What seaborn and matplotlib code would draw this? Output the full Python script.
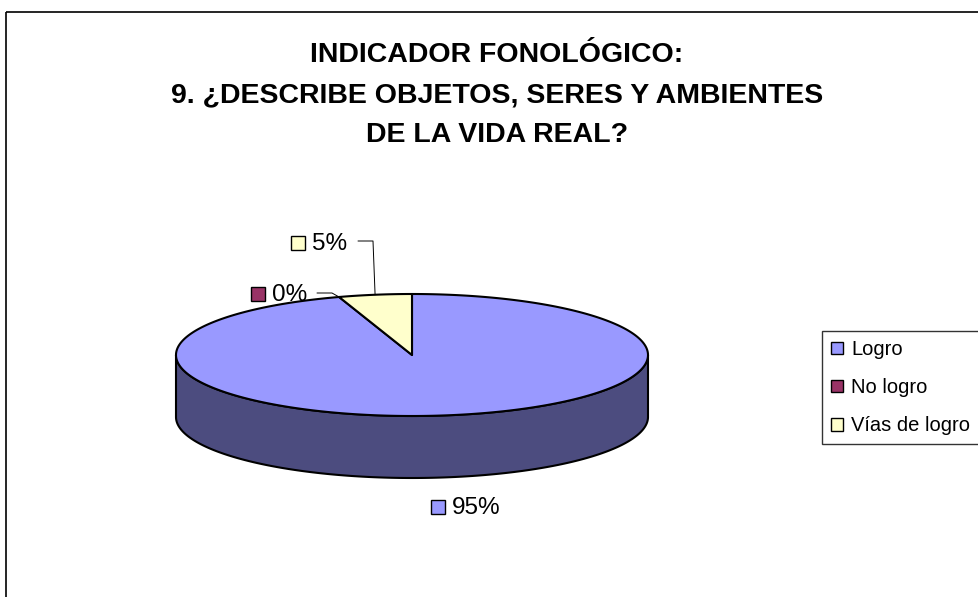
import numpy as np
import matplotlib
matplotlib.use("Agg")
import matplotlib.pyplot as plt
import seaborn as sns
from matplotlib.patches import Polygon, Rectangle, Patch

# ---- data ----
categories = ["Logro", "No logro", "Vías de logro"]
percentages = [95, 0, 5]
colors_top = ["#9999FF", "#993366", "#FFFFCC"]
colors_side = ["#4C4C7F", "#4C1A33", "#808066"]
title_lines = ["INDICADOR FONOLÓGICO:",
               "9. ¿DESCRIBE OBJETOS, SERES Y AMBIENTES",
               "DE LA VIDA REAL?"]

sns.set_theme(style="white")
plt.rcParams["font.family"] = ["Liberation Sans", "DejaVu Sans"]
plt.rcParams["text.color"] = "black"
palette = sns.color_palette(colors_top)

W, H = 979, 597
fig = plt.figure(figsize=(W / 100, H / 100), dpi=100)
ax = fig.add_axes([0, 0, 1, 1])
ax.set_xlim(0, W)
ax.set_ylim(H, 0)
ax.axis("off")

# chart area border
ax.plot([6, W + 5], [12, 12], color="black", lw=1.2, solid_capstyle="butt")
ax.plot([6, 6], [12, H + 5], color="black", lw=1.2, solid_capstyle="butt")

# title
for i, line in enumerate(title_lines):
    ax.text(497, 62 + 40 * i, line, ha="center", va="baseline",
            fontsize=20.5, fontweight="bold", color="black")

# ---- 3D pie geometry (pixel space of the axes) ----
cx, cy, a, b, depth = 412, 355, 236, 61, 62
total = sum(percentages)
fracs = np.array(percentages) / total
cum = np.concatenate([[0], np.cumsum(fracs)])
# Excel style: start at 12 o'clock, go clockwise
starts = 90 - 360 * cum[:-1]
ends = 90 - 360 * cum[1:]


def ell(t, dy=0.0):
    t = np.radians(t)
    return np.column_stack([cx + a * np.cos(t), cy - b * np.sin(t) + dy])


# side walls (front half: 180..360 degrees)
for i in range(len(categories)):
    lo, hi = ends[i], starts[i]
    if hi - lo <= 0:
        continue
    for k in range(-2, 3):
        s_lo = max(lo, 180 + 360 * k)
        s_hi = min(hi, 360 + 360 * k)
        if s_hi > s_lo:
            t = np.linspace(s_lo, s_hi, 200)
            pts = np.vstack([ell(t), ell(t[::-1], depth)])
            ax.add_patch(Polygon(pts, closed=True, facecolor=colors_side[i],
                                 edgecolor="black", lw=1.5, joinstyle="round"))

# top faces
for i in range(len(categories)):
    lo, hi = ends[i], starts[i]
    if hi - lo <= 0:
        continue
    t = np.linspace(lo, hi, 400)
    pts = np.vstack([[cx, cy], ell(t)])
    ax.add_patch(Polygon(pts, closed=True, facecolor=palette[i],
                         edgecolor="black", lw=1.5, joinstyle="round"))

# ---- data labels ----
mids = (starts + ends) / 2


def label(i, box_x, base_y, leader=None):
    ax.add_patch(Rectangle((box_x, base_y - 14), 14, 14, facecolor=colors_top[i],
                           edgecolor="black", lw=1.0))
    ax.text(box_x + 21, base_y, f"{percentages[i]}%", ha="left", va="baseline",
            fontsize=17.5, color="black")
    if leader is not None:
        ax.plot(leader[0], leader[1], color="black", lw=0.7)


# Logro (bottom)
label(0, 431, 514)
# No logro
p1 = ell([mids[1]])[0]
label(1, 251, 301, ([317, 332, p1[0]], [293, 293, p1[1]]))
# Vías de logro
p2 = ell([mids[2]])[0]
label(2, 291, 250, ([358, 373, p2[0]], [241, 241, p2[1]]))

# ---- legend ----
handles = [Patch(facecolor=c, edgecolor="black", lw=1.0) for c in colors_top]
leg = fig.legend(handles, categories, loc="upper left",
                 bbox_to_anchor=(822 / W, 1 - 331 / H), fontsize=14.5,
                 frameon=True, fancybox=False, edgecolor="black",
                 handlelength=0.6, handleheight=0.6, handletextpad=0.4,
                 labelspacing=0.95, borderpad=0.45, borderaxespad=0,
                 labelcolor="black")
leg.get_frame().set_linewidth(1.0)

fig.savefig("out.png", dpi=100, facecolor="white")
